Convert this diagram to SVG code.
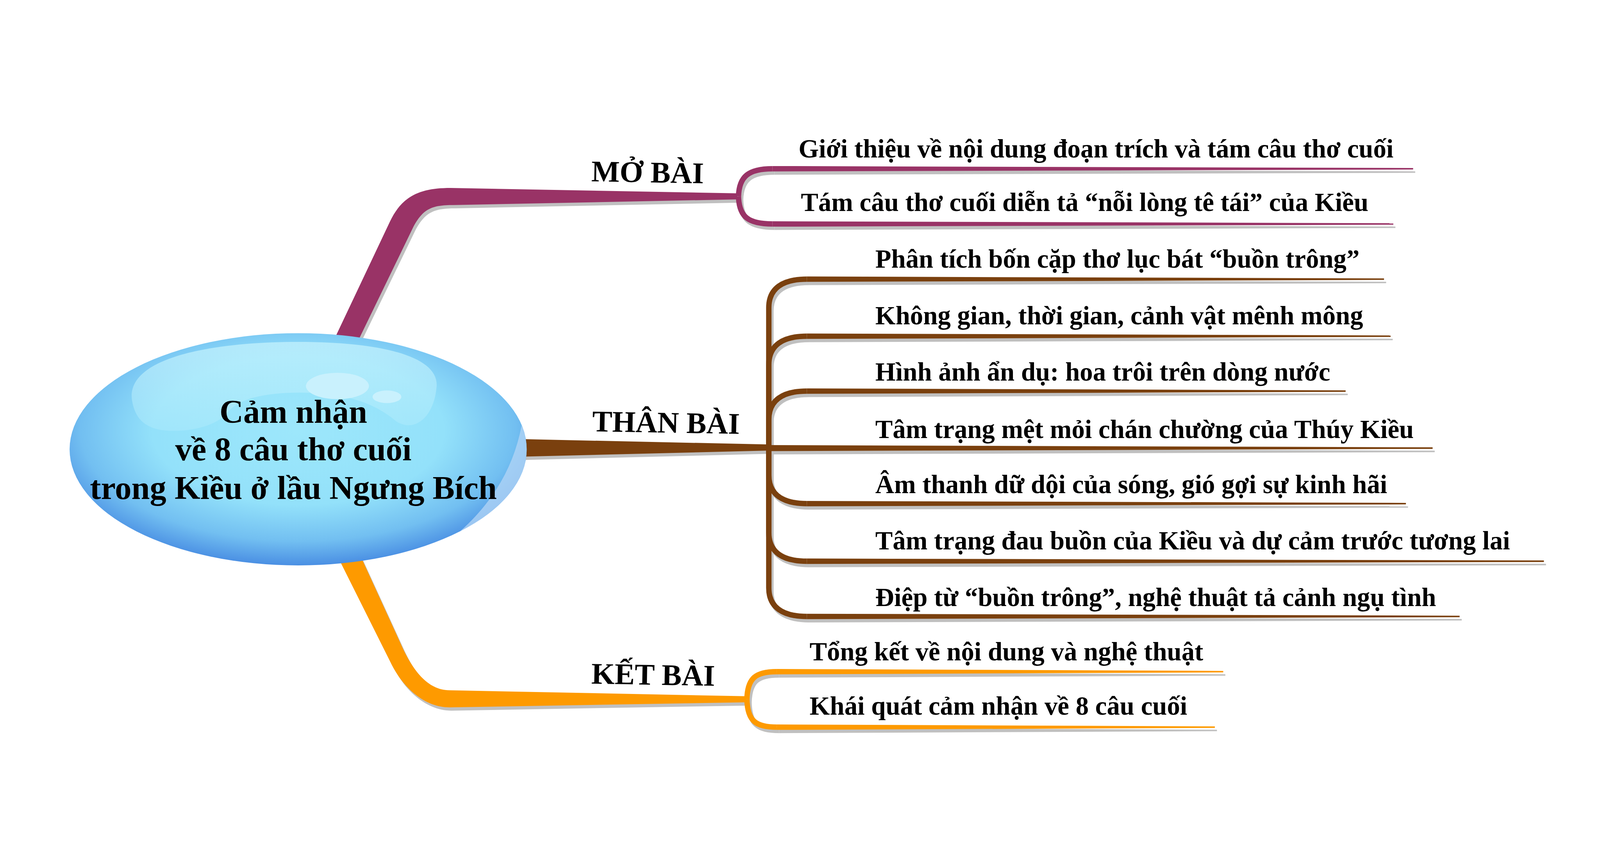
<svg xmlns="http://www.w3.org/2000/svg" xmlns:xlink="http://www.w3.org/1999/xlink" width="5334" height="2206" viewBox="0 0 5334 2206" preserveAspectRatio="xMidYMid meet" style="width:100vw;height:100vh;max-width:5334px;max-height:2206px">
<style>
.t{font-family:"Liberation Serif","Times New Roman",serif;font-weight:bold;fill:#000}
.child{font-size:87px}
.label{font-size:100px}
.center{font-size:110px;text-anchor:middle}
.br{fill:none;stroke:currentColor;stroke-width:18}
.tp{fill:currentColor;stroke:none}
</style>
<defs>
<radialGradient id="ballGrad" cx="0.5" cy="0.42" r="0.58">
<stop offset="0" stop-color="#9de7fb"/>
<stop offset="0.55" stop-color="#93e1fa"/>
<stop offset="0.82" stop-color="#72bff1"/>
<stop offset="1" stop-color="#4a8fe3"/>
</radialGradient>
<linearGradient id="hiGrad" x1="0" y1="0" x2="0" y2="1">
<stop offset="0" stop-color="#c4f2fd" stop-opacity="0.75"/>
<stop offset="1" stop-color="#b8eefc" stop-opacity="0.35"/>
</linearGradient>
<g id="moShape">
<path class="tp" d="M1080,870 L1300,405 C1340,320 1400,293 1502,293 L2458,311 L2458,331 L1511,350 C1440,350 1410,362 1377,425 L1161,870 Z"/>
<path class="br" d="M2462,321 C2464,255 2495,229 2575,229"/>
<path class="br" d="M2462,321 C2464,390 2495,413 2575,413"/>
<polygon class="tp" points="2575,220 4711,226.5 4711,231.5 2575,238"/>
<polygon class="tp" points="2575,404 4645,410.5 4645,415.5 2575,422"/>
</g>
<g id="thanShape">
<path class="tp" d="M1600,1127 L2566,1148 L2566,1168 L1600,1192 Z"/>
<path class="br" d="M2563,1157 L2563,692 C2563,627 2610,597 2690,597"/>
<path class="br" d="M2563,1157 L2563,882 C2563,817 2610,787 2690,787"/>
<path class="br" d="M2563,1157 L2563,1065 C2563,1000 2610,970 2690,970"/>
<path class="br" d="M2563,1157 L2563,1250 C2563,1315 2610,1345 2690,1345"/>
<path class="br" d="M2563,1157 L2563,1442 C2563,1507 2610,1537 2690,1537"/>
<path class="br" d="M2563,1157 L2563,1626 C2563,1691 2610,1721 2690,1721"/>
<polygon class="tp" points="2690,588 4614,594.5 4614,599.5 2690,606"/>
<polygon class="tp" points="2690,778 4636,784.5 4636,789.5 2690,796"/>
<polygon class="tp" points="2690,961 4486,967.5 4486,972.5 2690,979"/>
<polygon class="tp" points="2555,1150 4776,1157.5 4776,1162.5 2555,1170"/>
<polygon class="tp" points="2690,1336 4687,1342.5 4687,1347.5 2690,1354"/>
<polygon class="tp" points="2690,1528 5147,1534.5 5147,1539.5 2690,1546"/>
<polygon class="tp" points="2690,1712 4866,1718.5 4866,1723.5 2690,1730"/>
</g>
<g id="ketShape">
<path class="tp" d="M1090,1450 L1300,1870 C1345,1965 1420,2024 1498,2024 L2488,2007 L2488,1987 L1498,1967 C1425,1966 1375,1900 1335,1810 L1170,1450 Z"/>
<path class="br" d="M2490,1997 C2492,1925 2520,1905 2590,1905"/>
<path class="br" d="M2490,1997 C2492,2070 2520,2090 2590,2090"/>
<polygon class="tp" points="2590,1896 4078,1902.5 4078,1907.5 2590,1914"/>
<polygon class="tp" points="2590,2081 4050,2087.5 4050,2092.5 2590,2099"/>
</g>
</defs>
<rect width="5334" height="2206" fill="#fff"/>
<g id="connectors">
<use xlink:href="#moShape" href="#moShape" color="#c0c0c0" transform="translate(7,11)"/>
<use xlink:href="#moShape" href="#moShape" color="#993366"/>
<use xlink:href="#thanShape" href="#thanShape" color="#c0c0c0" transform="translate(7,11)"/>
<use xlink:href="#thanShape" href="#thanShape" color="#7a400e"/>
<use xlink:href="#ketShape" href="#ketShape" color="#c0c0c0" transform="translate(7,11)"/>
<use xlink:href="#ketShape" href="#ketShape" color="#fe9a00"/>
</g>
<g id="center">
<ellipse cx="994" cy="1164" rx="762" ry="387" fill="url(#ballGrad)"/>
<path d="M440,1000 C420,860 700,806 994,806 C1290,806 1470,860 1455,960 C1445,1060 1380,1110 1320,1070 C1250,1010 1150,975 1000,975 C900,975 800,990 760,1040 C720,1090 620,1110 540,1100 C480,1090 450,1060 440,1000 Z" fill="url(#hiGrad)"/>
<ellipse cx="1125" cy="953" rx="105" ry="44" fill="#c9f1fd"/>
<ellipse cx="1290" cy="989" rx="48" ry="21" fill="#c9f1fd"/>
<path d="M1739,1084 A762 387 0 0 1 1533,1438 Q1700,1290 1739,1084 Z" fill="#b4d6f6" opacity="0.75"/>
<text class="t center" x="978" y="1076">Cảm nhận</text>
<text class="t center" x="978" y="1201">về 8 câu thơ cuối</text>
<text class="t center" x="978" y="1329">trong Kiều ở lầu Ngưng Bích</text>
</g>
<g id="mo-bai">
<text class="t label" x="1971" y="271" transform="rotate(1 1971 271)">MỞ BÀI</text>
</g>
<g id="mo-1"><text class="t child" x="2662" y="192">Giới thiệu về nội dung đoạn trích và tám câu thơ cuối</text></g>
<g id="mo-2"><text class="t child" x="2670" y="370">Tám câu thơ cuối diễn tả “nỗi lòng tê tái” của Kiều</text></g>
<g id="than-bai">
<text class="t label" x="1974" y="1104" transform="rotate(1 1974 1104)">THÂN BÀI</text>
</g>
<g id="than-1"><text class="t child" x="2918" y="559">Phân tích bốn cặp thơ lục bát “buồn trông”</text></g>
<g id="than-2"><text class="t child" x="2918" y="748">Không gian, thời gian, cảnh vật mênh mông</text></g>
<g id="than-3"><text class="t child" x="2918" y="935">Hình ảnh ẩn dụ: hoa trôi trên dòng nước</text></g>
<g id="than-4"><text class="t child" x="2918" y="1126">Tâm trạng mệt mỏi chán chường của Thúy Kiều</text></g>
<g id="than-5"><text class="t child" x="2918" y="1310">Âm thanh dữ dội của sóng, gió gợi sự kinh hãi</text></g>
<g id="than-6"><text class="t child" x="2918" y="1498">Tâm trạng đau buồn của Kiều và dự cảm trước tương lai</text></g>
<g id="than-7"><text class="t child" x="2918" y="1687">Điệp từ “buồn trông”, nghệ thuật tả cảnh ngụ tình</text></g>
<g id="ket-bai">
<text class="t label" x="1971" y="1945" transform="rotate(1 1971 1945)">KẾT BÀI</text>
</g>
<g id="ket-1"><text class="t child" x="2699" y="1867">Tổng kết về nội dung và nghệ thuật</text></g>
<g id="ket-2"><text class="t child" x="2699" y="2049">Khái quát cảm nhận về 8 câu cuối</text></g>
</svg>
